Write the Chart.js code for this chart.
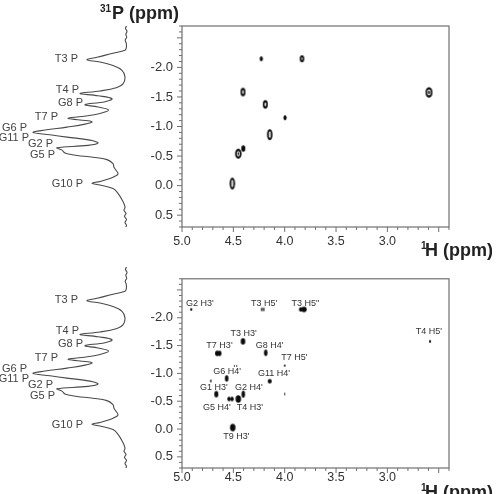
<!DOCTYPE html>
<html>
<head>
<meta charset="utf-8">
<script src="https://cdn.jsdelivr.net/npm/chart.js@4.4.1/dist/chart.umd.min.js"></script>
<style>
html, body { margin: 0; padding: 0; background: #fff; }
#wrap { position: relative; width: 498px; height: 494px; overflow: hidden; }
canvas { position: absolute; }
</style>
</head>
<body>
<div id="wrap">
  <canvas id="top2d" width="498" height="262" style="left:0px;top:0px"></canvas>
  <canvas id="bot2d" width="498" height="232" style="left:0px;top:262px"></canvas>
  <canvas id="topTrace" width="132" height="201" style="left:0px;top:26px"></canvas>
  <canvas id="botTrace" width="132" height="201" style="left:0px;top:267px"></canvas>
</div>
<script>
// 31P 1D projection (ppm, intensity from baseline)
const tracePpm = [-2.70,-2.66,-2.61,-2.56,-2.51,-2.46,-2.41,-2.34,-2.29,-2.24,-2.17,-2.13,-2.09,-2.03,-1.95,-1.84,-1.72,-1.66,-1.60,-1.56,
  -1.52,-1.47,-1.42,-1.37,-1.33,-1.28,-1.22,-1.17,-1.14,-1.11,-1.08,-1.04,-0.99,-0.94,-0.90,-0.86,-0.82,-0.77,-0.72,-0.68,
  -0.64,-0.60,-0.55,-0.53,-0.51,-0.48,-0.44,-0.37,-0.31,-0.26,-0.20,-0.16,-0.12,-0.07,-0.04,-0.01,0.05,0.13,0.24,0.36,
  0.42,0.47,0.52,0.57,0.62,0.67,0.70];
const traceInt = [0.5,1.5,0,1.2,0.3,1.8,0.8,0.6,2,14,30,40,27,14,5,2,4,10,27,47,
  29,15,22,42,29,18.5,27,45,59,47,35,42,60,82,94,77,60,37,29,39,
  70,65,62,57,50,34,20,14,13,11,9,12,17,27,35,27,14,9,5,2,
  3,1,2.5,0.5,2,0.5,1.2];

const peakNames = ['T3 P','T4 P','G8 P','T7 P','G6 P','G11 P','G2 P','G5 P','G10 P'];
const peakPpm = [-2.15,-1.61,-1.40,-1.16,-0.98,-0.80,-0.70,-0.51,-0.03];
const peakLabelInt = [49,48,44,69,100,98,74,72,44];   // where the label ends, in trace units

// top 2D spectrum: cross peaks (1H ppm, 31P ppm)
const topH = [4.51,4.452,4.403,4.406,4.228,4.189,3.997,4.146,3.832,2.595];
const topP = [-0.035,-0.54,-0.627,-1.583,-2.147,-1.375,-1.15,-0.863,-2.147,-1.578];
const topW = [5.5,6.5,4,5,3.2,5,3.2,5.5,4.5,7];
const topHt = [12,10,6.5,8.5,5,8.5,5,11,7,10.5];

// bottom 2D spectrum
const botH = [4.91,4.224,4.205,3.844,3.812,4.406,4.659,4.635,4.185,4.0,4.49,4.467,4.565,4.72,4.146,4.666,4.403,4.0,4.542,4.513,4.452,4.506,2.585];
const botP = [-2.15,-2.15,-2.15,-2.15,-2.15,-1.576,-1.36,-1.36,-1.37,-1.14,-1.136,-1.136,-0.91,-0.865,-0.86,-0.627,-0.627,-0.63,-0.54,-0.54,-0.54,-0.027,-1.576];
const botW = [2,1.5,1.5,3.5,5.5,4.5,4,4,3.5,2,1,1,3.5,1.5,4,4,3.5,1,3.5,3.5,5.5,5.5,2];
const botHt = [3,4,4,4.5,5.5,6.5,5.5,5.5,6.5,2,2,2,6.5,3,4.5,6.5,7,3,4.5,4.5,7.5,7.5,3];

const assignNames = ["G2 H3'","T3 H5'",'T3 H5"',"T4 H5'","T3 H3'","T7 H3'","G8 H4'","T7 H5'","G6 H4'","G11 H4'","G1 H3'","G2 H4'","G5 H4'","T4 H3'","T9 H3'"];
const assignH = [4.825,4.20,3.80,2.595,4.40,4.635,4.148,3.905,4.56,4.104,4.69,4.35,4.66,4.34,4.47];
const assignP = [-2.26,-2.26,-2.26,-1.75,-1.71,-1.50,-1.51,-1.28,-1.03,-0.99,-0.75,-0.75,-0.38,-0.38,0.14];

const hTickLabels = ['5.0','4.5','4.0','3.5','3.0'];
const pTickLabels = ['-2.0','-1.5','-1.0','-0.5','0.0','0.5'];

const FONT = "'Liberation Sans', Arial, Helvetica, sans-serif";
Chart.defaults.font.family = FONT;
Chart.defaults.color = '#333';

function isHalf(v) { return Math.abs(v * 2 - Math.round(v * 2)) < 1e-6; }
function pick(list, v) {
  const l = list.find(s => Math.abs(parseFloat(s) - v) < 1e-6);
  return l === undefined ? '' : l;
}

function makeBlob(w, h, ring) {
  const c = document.createElement('canvas');
  c.width = Math.ceil(w) + 2;
  c.height = Math.ceil(h) + 2;
  const g = c.getContext('2d');
  const cx = c.width / 2, cy = c.height / 2;
  g.fillStyle = '#0a0a0a';
  g.beginPath(); g.ellipse(cx, cy, w / 2, h / 2, 0, 0, Math.PI * 2); g.fill();
  if (ring && w > 4.2) {
    g.fillStyle = '#e8e8e8';
    g.beginPath(); g.ellipse(cx, cy, w / 2 - 1.6, h / 2 - 2.2, 0, 0, Math.PI * 2); g.fill();
    if (w > 5.2) {
      g.fillStyle = '#0a0a0a';
      g.beginPath(); g.ellipse(cx, cy, w / 2 - 2.6, h / 2 - 3.6, 0, 0, Math.PI * 2); g.fill();
    }
  }
  return c;
}

// box + outward ticks (long on the half ppm)
const frame = {
  id: 'frame',
  afterDraw(chart) {
    const { ctx, chartArea: a } = chart;
    const x = chart.scales.x, y = chart.scales.y;
    ctx.save();
    ctx.strokeStyle = '#707070';
    ctx.lineWidth = 1.2;
    ctx.strokeRect(a.left, a.top, a.right - a.left, a.bottom - a.top);
    ctx.beginPath();
    x.ticks.forEach(t => {
      const px = x.getPixelForValue(t.value);
      ctx.moveTo(px, a.bottom);
      ctx.lineTo(px, a.bottom + (isHalf(t.value) ? 5 : 3));
    });
    y.ticks.forEach(t => {
      const py = y.getPixelForValue(t.value);
      ctx.moveTo(a.left, py);
      ctx.lineTo(a.left - (isHalf(t.value) ? 5 : 3), py);
    });
    ctx.lineWidth = 1;
    ctx.stroke();
    ctx.restore();
  }
};

function hTitle(ctx, x, base) {
  ctx.fillStyle = '#222';
  ctx.textAlign = 'left';
  ctx.textBaseline = 'alphabetic';
  ctx.font = 'bold 10px ' + FONT;
  ctx.fillText('1', x, base - 7);
  ctx.font = 'bold 18px ' + FONT;
  ctx.fillText('H (ppm)', x + 4, base);
}

const topTitles = {
  id: 'topTitles',
  afterDraw(chart) {
    const ctx = chart.ctx;
    ctx.save();
    ctx.fillStyle = '#222';
    ctx.textBaseline = 'alphabetic';
    ctx.font = 'bold 10px ' + FONT;
    ctx.fillText('31', 100, 12);
    ctx.font = 'bold 18px ' + FONT;
    ctx.fillText('P (ppm)', 112, 19);
    hTitle(ctx, 421, 256);
    ctx.restore();
  }
};

const botTitles = {
  id: 'botTitles',
  afterDraw(chart) {
    const ctx = chart.ctx;
    ctx.save();
    hTitle(ctx, 421, 236);
    ctx.restore();
  }
};

const assignLabels = {
  id: 'assignLabels',
  afterDatasetsDraw(chart) {
    const ctx = chart.ctx, x = chart.scales.x, y = chart.scales.y;
    ctx.save();
    ctx.font = '9px ' + FONT;
    ctx.fillStyle = '#333';
    ctx.textAlign = 'center';
    ctx.textBaseline = 'middle';
    assignNames.forEach((n, i) => {
      ctx.fillText(n, x.getPixelForValue(assignH[i]), y.getPixelForValue(assignP[i]));
    });
    ctx.restore();
  }
};

function panel2d(id, H, P, W, Ht, ring, padTop, axisH, labelPad, extra) {
  const blobs = W.map((w, i) => makeBlob(w, Ht[i], ring));
  return new Chart(document.getElementById(id), {
    type: 'scatter',
    data: {
      datasets: [{
        data: H.map((h, i) => ({ x: h, y: P[i] })),
        pointStyle: c => blobs[c.dataIndex],
        pointRadius: 3
      }]
    },
    options: {
      responsive: false,
      animation: false,
      events: [],
      layout: { padding: { left: 0, right: 49, top: padTop, bottom: 0 } },
      plugins: { legend: { display: false }, tooltip: { enabled: false } },
      scales: {
        x: {
          type: 'linear', reverse: true, min: 2.4, max: 5.0,
          grid: { display: false, drawTicks: false },
          border: { display: false },
          ticks: {
            stepSize: 0.1, autoSkip: false, maxRotation: 0, padding: labelPad,
            font: { size: 12.5 }, color: '#333',
            callback: v => pick(hTickLabels, v)
          },
          afterFit: s => { s.height = axisH; }
        },
        y: {
          type: 'linear', reverse: true, min: -2.7, max: 0.7,
          grid: { display: false, drawTicks: false },
          border: { display: false },
          ticks: {
            stepSize: 0.1, autoSkip: false, padding: 9,
            font: { size: 13 }, color: '#333',
            callback: v => pick(pTickLabels, v)
          },
          afterFit: s => { s.width = 182; }
        }
      }
    },
    plugins: [frame, extra].concat(id === 'bot2d' ? [assignLabels] : [])
  });
}

const traceLabels = {
  id: 'traceLabels',
  afterDatasetsDraw(chart) {
    const ctx = chart.ctx, x = chart.scales.x, y = chart.scales.y;
    ctx.save();
    ctx.font = '11px ' + FONT;
    ctx.fillStyle = '#444';
    ctx.textAlign = 'right';
    ctx.textBaseline = 'middle';
    peakNames.forEach((n, i) => {
      ctx.fillText(n, x.getPixelForValue(peakLabelInt[i]), y.getPixelForValue(peakPpm[i]));
    });
    ctx.restore();
  }
};

function trace(id) {
  return new Chart(document.getElementById(id), {
    type: 'scatter',
    data: {
      datasets: [{
        data: tracePpm.map((p, i) => ({ x: traceInt[i], y: p })),
        showLine: true,
        borderColor: '#4a4a4a',
        borderWidth: 1.1,
        pointRadius: 0,
        tension: 0.4,
        fill: false
      }]
    },
    options: {
      responsive: false,
      animation: false,
      events: [],
      layout: { padding: 0 },
      plugins: { legend: { display: false }, tooltip: { enabled: false } },
      scales: {
        x: { type: 'linear', display: false, reverse: true, min: -5, max: 127 },
        y: { type: 'linear', display: false, reverse: true, min: -2.7, max: 0.7 }
      }
    },
    plugins: [traceLabels]
  });
}

panel2d('top2d', topH, topP, topW, topHt, true, 26, 35, 7, topTitles);
panel2d('bot2d', botH, botP, botW, botHt, false, 5, 26, 2, botTitles);
trace('topTrace');
trace('botTrace');
</script>
</body>
</html>
